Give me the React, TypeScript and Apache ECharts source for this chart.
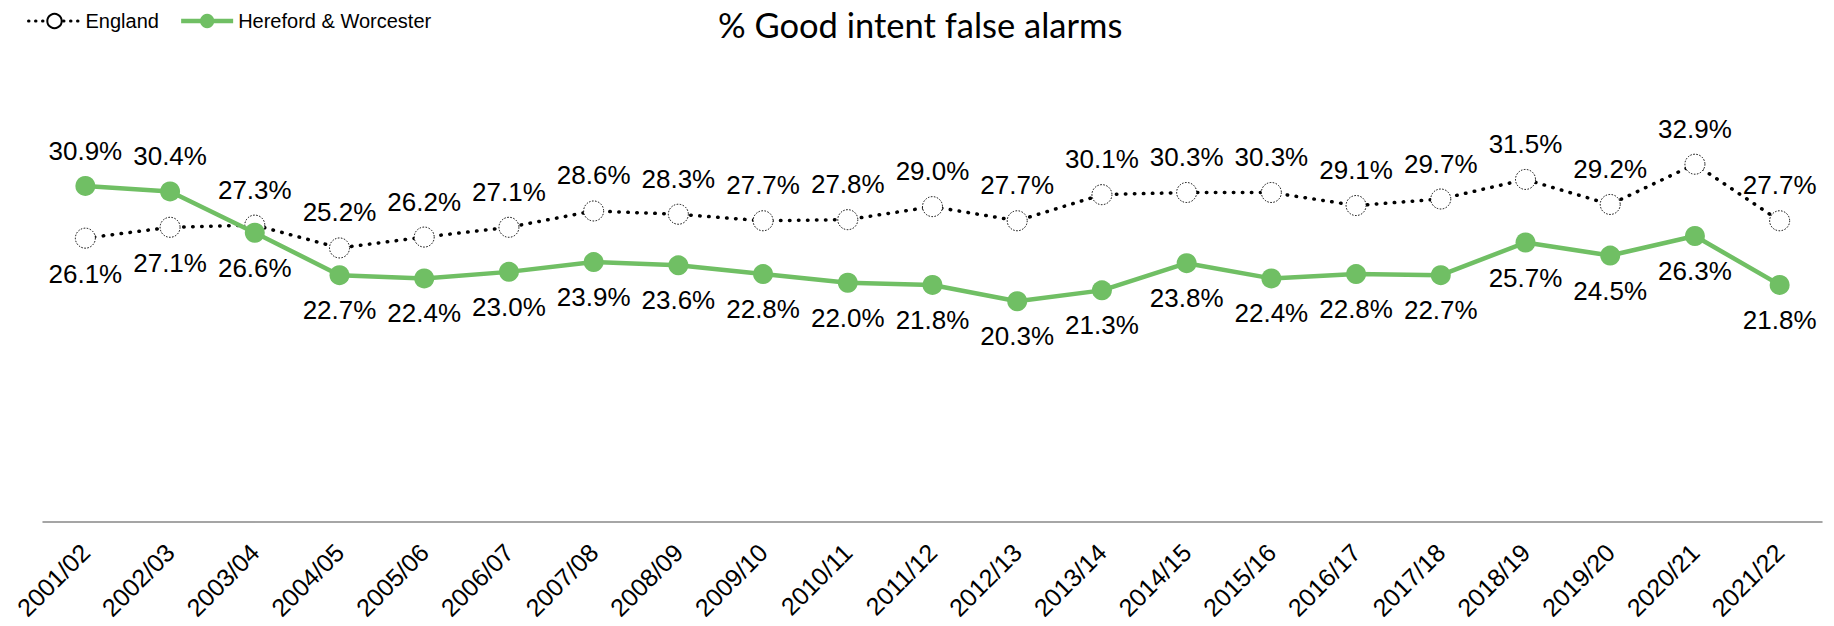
import React, { useEffect, useRef } from "react";
import * as echarts from "echarts";

const categories = [
  "2001/02", "2002/03", "2003/04", "2004/05", "2005/06", "2006/07", "2007/08",
  "2008/09", "2009/10", "2010/11", "2011/12", "2012/13", "2013/14", "2014/15",
  "2015/16", "2016/17", "2017/18", "2018/19", "2019/20", "2020/21", "2021/22",
];

const england = [
  26.1, 27.1, 27.3, 25.2, 26.2, 27.1, 28.6, 28.3, 27.7, 27.8, 29.0,
  27.7, 30.1, 30.3, 30.3, 29.1, 29.7, 31.5, 29.2, 32.9, 27.7,
];

const herefordWorcester = [
  30.9, 30.4, 26.6, 22.7, 22.4, 23.0, 23.9, 23.6, 22.8, 22.0, 21.8,
  20.3, 21.3, 23.8, 22.4, 22.8, 22.7, 25.7, 24.5, 26.3, 21.8,
];

// Points whose labels sit on the other side of the line
const englandLabelBelow = [0, 1];
const hwLabelAbove = [0, 1];

const GREEN = "#70bf64";
const FONT = "Liberation Sans, Arial, sans-serif";

export default function App() {
  const ref = useRef<HTMLDivElement>(null);

  useEffect(() => {
    if (!ref.current) return;
    const chart = echarts.init(ref.current, undefined, { renderer: "svg" });

    const labelBase = {
      show: true,
      fontSize: 26,
      fontFamily: FONT,
      color: "#000",
      distance: 12,
      formatter: (p: any) => `${Number(p.value).toFixed(1)}%`,
    };

    chart.setOption({
      animation: false,
      backgroundColor: "#fff",
      title: {
        text: "% Good intent false alarms",
        left: 718,
        top: 7,
        padding: 0,
        textStyle: {
          fontFamily: "Lato, 'Open Sans', sans-serif",
          fontWeight: "normal",
          fontSize: 34.5,
          color: "#000",
        },
      },
      legend: {
        left: 22,
        top: 6,
        itemWidth: 52,
        itemHeight: 18,
        itemGap: 20,
        textStyle: { fontFamily: FONT, fontSize: 20, color: "#000" },
        data: [
          {
            name: "England",
            lineStyle: { width: 3, type: [0.5, 6.5], cap: "round" },
          },
          {
            name: "Hereford & Worcester",
            lineStyle: { width: 4.5 },
          },
        ],
      },
      grid: { left: 43, right: 12, top: 87, bottom: 104, containLabel: false },
      xAxis: {
        type: "category",
        data: categories,
        boundaryGap: true,
        axisLine: { show: true, lineStyle: { color: "#888", width: 1.5 } },
        axisTick: { show: false },
        axisLabel: {
          rotate: 45,
          interval: 0,
          margin: 26,
          fontFamily: FONT,
          fontSize: 25,
          color: "#000",
        },
      },
      yAxis: {
        type: "value",
        min: 0,
        max: 40,
        show: false,
        splitLine: { show: false },
      },
      series: [
        {
          name: "England",
          type: "line",
          data: england.map((v, i) => ({
            value: v,
            label: { position: englandLabelBelow.includes(i) ? "bottom" : "top" },
          })),
          symbol: "circle",
          symbolSize: 20,
          lineStyle: { color: "#000", width: 3.5, type: [0.5, 8.5], cap: "round" },
          itemStyle: {
            color: "#fff",
            borderColor: "#000",
            borderWidth: 1,
            borderType: [1.5, 1.5],
          },
          label: { ...labelBase },
          z: 2,
        },
        {
          name: "Hereford & Worcester",
          type: "line",
          data: herefordWorcester.map((v, i) => ({
            value: v,
            label: { position: hwLabelAbove.includes(i) ? "top" : "bottom" },
          })),
          symbol: "circle",
          symbolSize: 20,
          lineStyle: { color: GREEN, width: 4.5 },
          itemStyle: { color: GREEN, borderWidth: 0 },
          label: { ...labelBase },
          z: 3,
        },
      ],
    });

    return () => chart.dispose();
  }, []);

  return (
    <div
      ref={ref}
      style={{ position: "fixed", left: 0, top: 0, width: 1834, height: 626 }}
    />
  );
}
